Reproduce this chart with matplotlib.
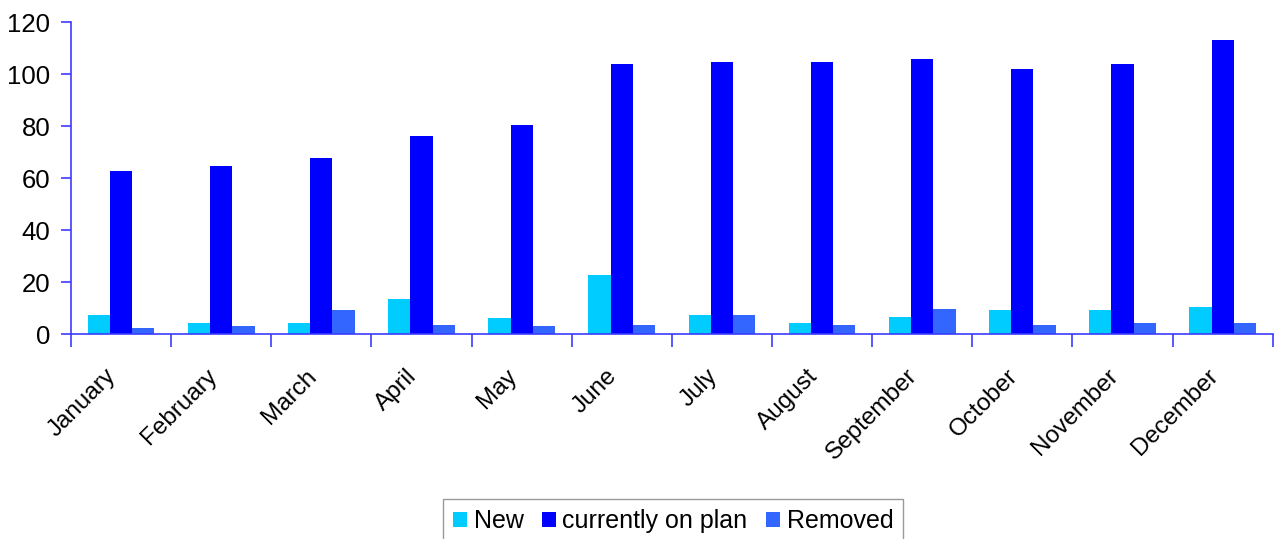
import numpy as np
import matplotlib.pyplot as plt
from matplotlib.transforms import ScaledTranslation

months = ["January", "February", "March", "April", "May", "June",
          "July", "August", "September", "October", "November", "December"]
new = [7.4, 4.3, 4.3, 13.6, 6.3, 22.8, 7.4, 4.3, 6.7, 9.3, 9.3, 10.5]
on_plan = [62.8, 64.7, 67.8, 76.3, 80.5, 104.0, 104.7, 104.7, 105.9, 102.0, 104.0, 113.2]
removed = [2.4, 3.2, 9.3, 3.6, 3.2, 3.6, 7.4, 3.6, 9.7, 3.6, 4.3, 4.3]

plt.rcParams['font.family'] = ['Liberation Sans', 'DejaVu Sans']
axis_col = '#3b3bff'

fig = plt.figure(figsize=(12.75, 5.39), dpi=100)
ax = fig.add_axes([0.0557, 0.3803, 0.9425, 0.5787])

x = np.arange(len(months))
w = 0.222
ax.bar(x - w, new, w, color='#00ccff', label='New')
ax.bar(x, on_plan, w, color='#0000ff', label='currently on plan')
ax.bar(x + w, removed, w, color='#3366ff', label='Removed')

ax.set_xlim(-0.5, len(months) - 0.5)
ax.set_ylim(0, 120)
ax.set_yticks(range(0, 121, 20))
ax.tick_params(axis='y', labelsize=18.5, length=7, color=axis_col, width=1.2, pad=8)

# category separators as tick marks, labels at the centres
ax.set_xticks(np.arange(len(months) + 1) - 0.5)
ax.set_xticklabels([])
ax.set_xticks(x, minor=True)
ax.set_xticklabels(months, minor=True, rotation=45, ha='right', va='center',
                   rotation_mode='anchor', fontsize=17.5)
ax.tick_params(axis='x', which='major', length=9, color=axis_col, width=1.2)
ax.tick_params(axis='x', which='minor', length=0, pad=28)
shift = ScaledTranslation(-8 / 100, 0, fig.dpi_scale_trans)
for lab in ax.get_xticklabels(minor=True):
    lab.set_transform(lab.get_transform() + shift)

for s in ['top', 'right']:
    ax.spines[s].set_visible(False)
for s in ['left', 'bottom']:
    ax.spines[s].set_color(axis_col)
    ax.spines[s].set_linewidth(1.2)

leg = fig.legend(loc='upper center', bbox_to_anchor=(0.528, 0.074), ncol=3,
                 fontsize=18, frameon=True, fancybox=False, edgecolor='#808080',
                 handlelength=0.56, handleheight=0.56, handletextpad=0.25,
                 columnspacing=0.75, borderpad=0.4, borderaxespad=0)
leg.get_frame().set_linewidth(1.0)

fig.savefig('out.png', dpi=100)
